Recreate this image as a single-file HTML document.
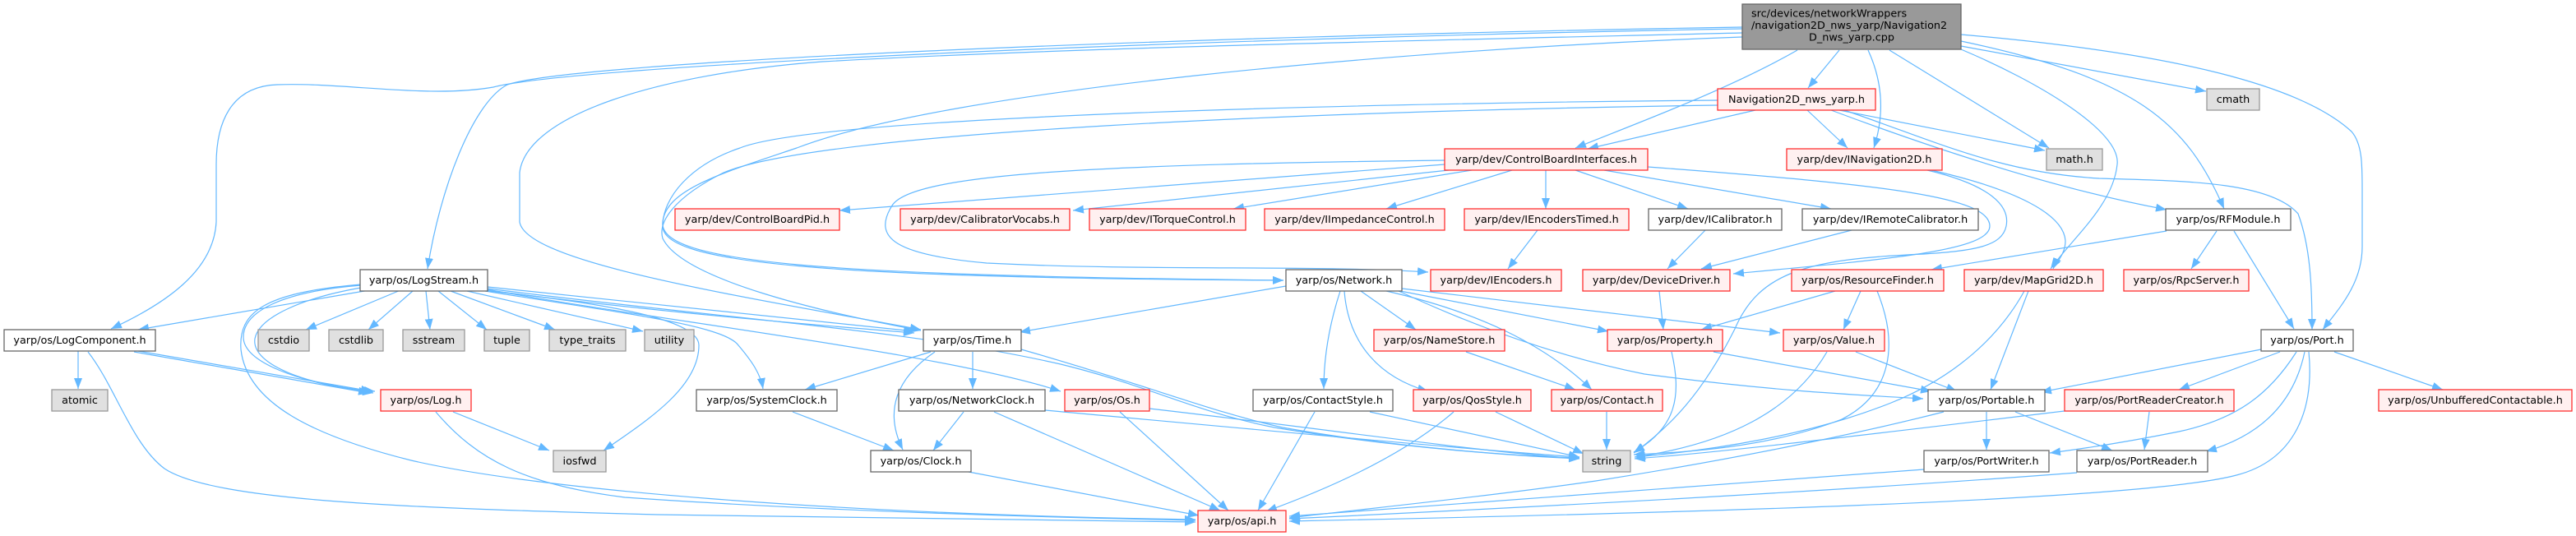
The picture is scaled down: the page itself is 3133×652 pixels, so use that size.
<!DOCTYPE html>
<html><head><meta charset="utf-8"><style>
html,body{margin:0;padding:0;background:#fff;}
svg{display:block;}
text{font-family:"DejaVu Sans","Liberation Sans",sans-serif;font-size:12.8px;fill:#000;}
.e{fill:none;stroke:#63b8ff;stroke-width:1.2;marker-end:url(#ah);}
.b{fill:#fff;stroke:#666;stroke-width:1.3;}
.r{fill:#fff0f0;stroke:#ff3030;stroke-width:1.3;}
.g{fill:#e0e0e0;stroke:#999;stroke-width:1.3;}
</style></head><body>
<svg width="3133" height="652" viewBox="0 0 3133 652" xmlns="http://www.w3.org/2000/svg">
<defs><marker id="ah" markerUnits="userSpaceOnUse" markerWidth="13" markerHeight="10" refX="13" refY="5" orient="auto" viewBox="0 0 13 10"><path d="M0,0 L13,5 L0,10 Z" fill="#63b8ff"/></marker></defs>
<rect width="3133" height="652" fill="#fff"/>
<g>
<!-- top node edges -->
<path class="e" d="M2237,61 L2199,107"/>
<path class="e" d="M2186,61 C2100,110 1990,150 1916,180"/>
<path class="e" d="M2272,61 C2290,100 2292,140 2279,180"/>
<path class="e" d="M2298,61 L2492,180"/>
<path class="e" d="M2385,56 L2683,111"/>
<path class="e" d="M2385,50 C2600,95 2660,150 2705,254"/>
<path class="e" d="M2385,42 C2650,65 2800,105 2860,160 C2873,175 2873,200 2873,230 L2873,300 C2873,345 2845,375 2825,401"/>
<path class="e" d="M2385,60 C2480,100 2580,160 2575,200 C2570,250 2520,290 2494,327"/>
<path class="e" d="M2119,33 C1400,45 700,75 617,103 C575,125 535,230 520,327"/>
<path class="e" d="M2119,35 C1400,48 700,80 600,106 C520,120 420,100 337,103 C280,105 263,150 263,200 L263,270 C260,330 200,370 135,400"/>
<path class="e" d="M2119,40 C1700,50 1300,58 1000,75 C800,90 640,140 632,210 L632,270 C640,320 900,360 1120,401"/>
<path class="e" d="M2119,45 C1700,60 1150,110 969,180 C880,210 810,230 806,270 C800,320 1000,335 1561,341"/>
<!-- Nav edges -->
<path class="e" d="M2089,122 C1700,125 1000,140 900,180 C840,200 806,240 806,275 C806,320 1000,338 1561,341"/>
<path class="e" d="M2089,128 C1600,135 1000,160 880,210 C820,240 800,270 806,290 C830,340 1000,380 1120,402"/>
<path class="e" d="M2135,134 L1931,181"/>
<path class="e" d="M2198,134 L2247,180"/>
<path class="e" d="M2237,134 L2487,183"/>
<path class="e" d="M2227,134 C2350,180 2500,230 2635,255"/>
<path class="e" d="M2243,134 C2350,170 2430,210 2553,217 C2650,220 2760,220 2795,260 C2810,300 2812,350 2812,401"/>
<!-- CBI edges -->
<path class="e" d="M1839,207 L1686,254"/>
<path class="e" d="M1880,207 L1880,254"/>
<path class="e" d="M1916,207 L2053,254"/>
<path class="e" d="M1951,207 L2227,254"/>
<path class="e" d="M1757,200 L1021,256"/>
<path class="e" d="M1762,207 L1305,256"/>
<path class="e" d="M1790,207 L1500,254"/>
<path class="e" d="M1757,195 C1350,200 1110,210 1085,250 C1060,290 1090,310 1200,320 C1400,330 1600,322 1737,331"/>
<path class="e" d="M2004,203 C2300,225 2420,240 2420,275 C2420,305 2300,315 2108,333"/>
<!-- INav edges -->
<path class="e" d="M2344,207 C2420,225 2445,250 2440,275 C2435,300 2400,305 2340,309 C2200,315 2140,330 2110,400 C2070,480 2030,520 1987,551"/>
<path class="e" d="M2349,207 C2450,230 2510,260 2512,293 C2512,310 2500,320 2497,327"/>
<!-- dev row edges -->
<path class="e" d="M1870,280 L1834,327"/>
<path class="e" d="M2074,280 L2028,327"/>
<path class="e" d="M2252,280 L2069,327"/>
<path class="e" d="M2635,281 L2349,328"/>
<path class="e" d="M2696,281 L2665,327"/>
<path class="e" d="M2717,281 L2790,400"/>
<!-- LogStream edges -->
<path class="e" d="M449,353 L168,401"/>
<path class="e" d="M487,353 L372,401"/>
<path class="e" d="M502,354 L448,401"/>
<path class="e" d="M518,354 L523,401"/>
<path class="e" d="M533,354 L592,401"/>
<path class="e" d="M548,354 L675,401"/>
<path class="e" d="M568,354 L782,403"/>
<path class="e" d="M439,347 C340,355 296,380 296,410 C296,440 360,465 454,478"/>
<path class="e" d="M439,350 C370,362 315,385 310,412 C305,445 380,470 456,476"/>
<path class="e" d="M585,353 C750,370 850,390 850,420 C850,470 790,510 734,548"/>
<path class="e" d="M593,349 C800,370 1000,390 1112,403"/>
<path class="e" d="M593,353 C800,380 1000,396 1112,405"/>
<path class="e" d="M590,354 C750,380 880,395 898,420 C915,440 925,455 928,473"/>
<path class="e" d="M592,352 C800,390 1150,430 1290,476"/>
<path class="e" d="M593,351 C900,390 1100,400 1290,443 C1400,470 1450,500 1550,520 C1700,545 1850,555 1921,558"/>
<path class="e" d="M439,346 C320,356 290,380 293,425 C300,490 380,530 500,560 C650,595 1000,625 1454,632"/>
<!-- LogComponent / Log -->
<path class="e" d="M95,427 L95,473"/>
<path class="e" d="M163,428 L449,478"/>
<path class="e" d="M168,427 L452,476"/>
<path class="e" d="M107,428 C140,470 160,540 200,570 C260,610 500,618 800,626 C1100,632 1300,634 1454,635"/>
<path class="e" d="M551,501 L668,548"/>
<path class="e" d="M530,501 C580,560 640,590 760,605 C1000,622 1300,630 1454,633"/>
<!-- Time etc -->
<path class="e" d="M1132,428 L979,474"/>
<path class="e" d="M1183,428 L1183,473"/>
<path class="e" d="M1137,428 C1090,460 1075,500 1098,547"/>
<path class="e" d="M1242,425 C1400,470 1470,500 1560,520 C1700,545 1850,555 1921,557"/>
<path class="e" d="M1564,348 L1240,404"/>
<path class="e" d="M964,501 L1087,548"/>
<path class="e" d="M1172,501 L1135,548"/>
<path class="e" d="M1209,501 L1484,621"/>
<path class="e" d="M1271,499 C1500,520 1800,548 1921,556"/>
<path class="e" d="M1398,497 C1600,520 1800,550 1921,558"/>
<path class="e" d="M1362,501 L1494,621"/>
<path class="e" d="M1178,574 L1458,627"/>
<!-- Network edges -->
<path class="e" d="M1630,354 C1615,400 1610,440 1610,473"/>
<path class="e" d="M1635,354 C1640,420 1680,460 1737,476"/>
<path class="e" d="M1655,354 L1722,401"/>
<path class="e" d="M1686,354 C1800,380 1880,420 1936,474"/>
<path class="e" d="M1703,354 L1956,403"/>
<path class="e" d="M1705,351 L2165,405"/>
<path class="e" d="M1701,354 C1800,400 1900,435 2000,455 C2150,475 2250,480 2339,485"/>
<path class="e" d="M1666,501 L1921,556"/>
<path class="e" d="M1599,501 L1530,621"/>
<path class="e" d="M1819,501 L1926,552"/>
<path class="e" d="M1768,501 C1700,560 1600,600 1540,622"/>
<path class="e" d="M1954,501 L1954,547"/>
<path class="e" d="M1783,428 L1916,474"/>
<path class="e" d="M2018,354 L2023,401"/>
<path class="e" d="M2232,354 L2069,401"/>
<path class="e" d="M2263,354 L2242,401"/>
<path class="e" d="M2283,354 C2310,420 2300,480 2240,510 C2150,545 2050,550 1987,553"/>
<path class="e" d="M2084,428 L2349,476"/>
<path class="e" d="M2033,428 C2045,480 2040,520 1987,550"/>
<path class="e" d="M2257,428 L2380,476"/>
<path class="e" d="M2222,428 C2180,500 2100,540 1988,556"/>
<path class="e" d="M2467,354 L2421,474"/>
<path class="e" d="M2462,354 C2420,430 2350,470 2300,490 C2200,530 2080,548 1988,556"/>
<!-- Port edges -->
<path class="e" d="M2750,425 L2482,477"/>
<path class="e" d="M2773,428 L2650,474"/>
<path class="e" d="M2839,428 L2971,474"/>
<path class="e" d="M2793,428 C2760,480 2720,510 2650,525 C2600,535 2540,545 2493,551"/>
<path class="e" d="M2803,428 C2790,490 2750,530 2683,549"/>
<path class="e" d="M2808,428 C2815,500 2790,560 2720,578 C2600,610 2000,625 1568,634"/>
<path class="e" d="M2416,501 L2416,547"/>
<path class="e" d="M2451,501 L2569,548"/>
<path class="e" d="M2364,501 C2250,530 2100,560 1941,585 C1800,605 1650,620 1568,630"/>
<path class="e" d="M2614,501 L2608,547"/>
<path class="e" d="M2511,500 C2300,525 2100,550 1988,558"/>
<path class="e" d="M2340,571 L1568,628"/>
<path class="e" d="M2526,575 C2200,600 1800,620 1568,631"/>
</g>
<g>
<!-- top node -->
<rect x="2119" y="5" width="266" height="55" fill="#999999" stroke="#666" stroke-width="1.3"/>
<text x="2130" y="20.5">src/devices/networkWrappers</text>
<text x="2130" y="35">/navigation2D_nws_yarp/Navigation2</text>
<text x="2252" y="49.5" text-anchor="middle">D_nws_yarp.cpp</text>
</g>
<g text-anchor="middle">
<rect class="r" x="2089" y="108" width="192" height="26"/><text x="2185" y="125">Navigation2D_nws_yarp.h</text>
<rect class="g" x="2684" y="108" width="64" height="26"/><text x="2716" y="125">cmath</text>
<rect class="r" x="1757" y="181" width="247" height="26"/><text x="1880.5" y="198">yarp/dev/ControlBoardInterfaces.h</text>
<rect class="r" x="2173" y="181" width="189" height="26"/><text x="2267.5" y="198">yarp/dev/INavigation2D.h</text>
<rect class="g" x="2489" y="181" width="68" height="26"/><text x="2523" y="198">math.h</text>
<rect class="r" x="821" y="254" width="200" height="26"/><text x="921" y="271">yarp/dev/ControlBoardPid.h</text>
<rect class="r" x="1095" y="254" width="206" height="26"/><text x="1198" y="271">yarp/dev/CalibratorVocabs.h</text>
<rect class="r" x="1325" y="254" width="190" height="26"/><text x="1420" y="271">yarp/dev/ITorqueControl.h</text>
<rect class="r" x="1538" y="254" width="219" height="26"/><text x="1647.5" y="271">yarp/dev/IImpedanceControl.h</text>
<rect class="r" x="1781" y="254" width="200" height="26"/><text x="1881" y="271">yarp/dev/IEncodersTimed.h</text>
<rect class="b" x="2005" y="254" width="162" height="26"/><text x="2086" y="271">yarp/dev/ICalibrator.h</text>
<rect class="b" x="2192" y="254" width="214" height="26"/><text x="2299" y="271">yarp/dev/IRemoteCalibrator.h</text>
<rect class="b" x="2634" y="254" width="152" height="26"/><text x="2710" y="271">yarp/os/RFModule.h</text>
<rect class="b" x="438" y="328" width="155" height="26"/><text x="515.5" y="345">yarp/os/LogStream.h</text>
<rect class="b" x="1564" y="328" width="141" height="26"/><text x="1634.5" y="345">yarp/os/Network.h</text>
<rect class="r" x="1740" y="328" width="159" height="26"/><text x="1819.5" y="345">yarp/dev/IEncoders.h</text>
<rect class="r" x="1925" y="328" width="179" height="26"/><text x="2014.5" y="345">yarp/dev/DeviceDriver.h</text>
<rect class="r" x="2179" y="328" width="185" height="26"/><text x="2271.5" y="345">yarp/os/ResourceFinder.h</text>
<rect class="r" x="2389" y="328" width="169" height="26"/><text x="2473.5" y="345">yarp/dev/MapGrid2D.h</text>
<rect class="r" x="2583" y="328" width="152" height="26"/><text x="2659" y="345">yarp/os/RpcServer.h</text>
<rect class="b" x="5" y="401" width="184" height="26"/><text x="97" y="418">yarp/os/LogComponent.h</text>
<rect class="g" x="314" y="401" width="62" height="26"/><text x="345" y="418">cstdio</text>
<rect class="g" x="400" y="401" width="66" height="26"/><text x="433" y="418">cstdlib</text>
<rect class="g" x="490" y="401" width="75" height="26"/><text x="527.5" y="418">sstream</text>
<rect class="g" x="589" y="401" width="55" height="26"/><text x="616.5" y="418">tuple</text>
<rect class="g" x="668" y="401" width="93" height="26"/><text x="714.5" y="418">type_traits</text>
<rect class="g" x="784" y="401" width="60" height="26"/><text x="814" y="418">utility</text>
<rect class="b" x="1123" y="401" width="119" height="26"/><text x="1182.5" y="418">yarp/os/Time.h</text>
<rect class="r" x="1671" y="401" width="159" height="26"/><text x="1750.5" y="418">yarp/os/NameStore.h</text>
<rect class="r" x="1955" y="401" width="140" height="26"/><text x="2025" y="418">yarp/os/Property.h</text>
<rect class="r" x="2169" y="401" width="123" height="26"/><text x="2230.5" y="418">yarp/os/Value.h</text>
<rect class="b" x="2750" y="401" width="112" height="26"/><text x="2806" y="418">yarp/os/Port.h</text>
<rect class="g" x="63" y="474" width="68" height="26"/><text x="97" y="491">atomic</text>
<rect class="r" x="463" y="474" width="110" height="26"/><text x="518" y="491">yarp/os/Log.h</text>
<rect class="b" x="847" y="474" width="171" height="26"/><text x="932.5" y="491">yarp/os/SystemClock.h</text>
<rect class="b" x="1093" y="474" width="178" height="26"/><text x="1182" y="491">yarp/os/NetworkClock.h</text>
<rect class="r" x="1295" y="474" width="103" height="26"/><text x="1346.5" y="491">yarp/os/Os.h</text>
<rect class="b" x="1524" y="474" width="170" height="26"/><text x="1609" y="491">yarp/os/ContactStyle.h</text>
<rect class="r" x="1719" y="474" width="143" height="26"/><text x="1790.5" y="491">yarp/os/QosStyle.h</text>
<rect class="r" x="1887" y="474" width="135" height="26"/><text x="1954.5" y="491">yarp/os/Contact.h</text>
<rect class="b" x="2345" y="474" width="142" height="26"/><text x="2416" y="491">yarp/os/Portable.h</text>
<rect class="r" x="2511" y="474" width="206" height="26"/><text x="2614" y="491">yarp/os/PortReaderCreator.h</text>
<rect class="r" x="2893" y="474" width="235" height="26"/><text x="3010.5" y="491">yarp/os/UnbufferedContactable.h</text>
<rect class="g" x="673" y="548" width="64" height="26"/><text x="705" y="565">iosfwd</text>
<rect class="b" x="1059" y="548" width="122" height="26"/><text x="1120" y="565">yarp/os/Clock.h</text>
<rect class="g" x="1925" y="548" width="58" height="26"/><text x="1954" y="565">string</text>
<rect class="b" x="2340" y="548" width="152" height="26"/><text x="2416" y="565">yarp/os/PortWriter.h</text>
<rect class="b" x="2526" y="548" width="159" height="26"/><text x="2605.5" y="565">yarp/os/PortReader.h</text>
<rect class="r" x="1457" y="621" width="107" height="26"/><text x="1510.5" y="638">yarp/os/api.h</text>
</g>
</svg>
</body></html>
